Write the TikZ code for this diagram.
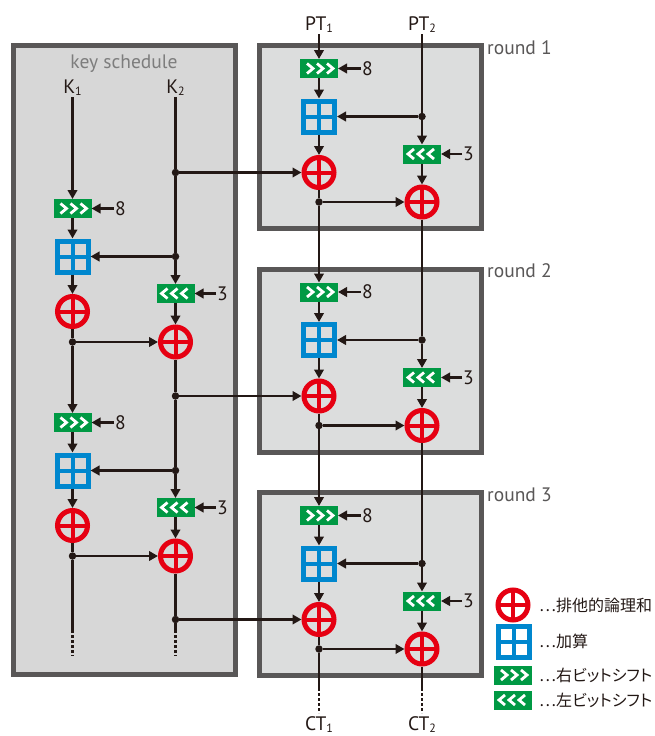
\documentclass[tikz,border=0pt]{standalone}
\usepackage{fontspec}
\setmainfont{PT Sans}
\newfontfamily\jpfont[RawFeature=+palt]{Noto Sans CJK JP}
\usetikzlibrary{arrows.meta}
\definecolor{ink}{HTML}{231815}
\definecolor{xred}{HTML}{E60012}
\definecolor{ablue}{HTML}{0087CE}
\definecolor{sgreen}{HTML}{009944}
\definecolor{frame}{HTML}{595757}
\definecolor{keyfill}{HTML}{D7D7D7}
\definecolor{rndfill}{HTML}{DCDDDD}
\definecolor{labgray}{HTML}{7D7D7D}
\newcommand{\mysub}[1]{\raisebox{-2.5pt}{\fontsize{12}{12}\selectfont #1}}
\begin{document}
\begin{tikzpicture}[x=1pt,y=-1pt,
  every node/.style={font=\fontsize{19.5}{22}\selectfont, text=ink},
  lab/.style={inner sep=1.5pt},
  arr/.style={draw=ink, line width=2.3pt, -{Triangle[length=9pt,width=9.5pt]}},
  ln/.style={draw=ink, line width=2.3pt},
  dotln/.style={draw=ink, line width=2.3pt, dash pattern=on 2.5pt off 2.5pt},
  dot/.style={circle, fill=ink, inner sep=0pt, minimum size=7.5pt},
  frm/.style={draw=frame, line width=5pt},
  shiftR/.style={rectangle, fill=sgreen, minimum width=38pt, minimum height=19pt, inner sep=0pt, outer sep=0pt,
    path picture={\foreach \c in {-9,1,11} \draw[white, line width=2.8pt]
      ([shift={(\c-3,-5)}]path picture bounding box.center) --
      ([shift={(\c+3,0)}]path picture bounding box.center) --
      ([shift={(\c-3,5)}]path picture bounding box.center);}},
  shiftL/.style={rectangle, fill=sgreen, minimum width=38pt, minimum height=19pt, inner sep=0pt, outer sep=0pt,
    path picture={\foreach \c in {-11,-1,9} \draw[white, line width=2.8pt]
      ([shift={(\c+3,-5)}]path picture bounding box.center) --
      ([shift={(\c-3,0)}]path picture bounding box.center) --
      ([shift={(\c+3,5)}]path picture bounding box.center);}},
  xor/.style={circle, draw=xred, line width=5pt, minimum size=30pt, inner sep=0pt,
    path picture={
      \draw[xred, line width=4pt] ([xshift=-16pt]path picture bounding box.center) -- ([xshift=16pt]path picture bounding box.center);
      \draw[xred, line width=4pt] ([yshift=-16pt]path picture bounding box.center) -- ([yshift=16pt]path picture bounding box.center);}},
  add/.style={rectangle, fill=ablue, minimum size=36pt, inner sep=0pt, outer sep=0pt,
    path picture={\foreach \a in {-13,2} \foreach \b in {-13,2}
      \fill[#1] ([shift={(\a,\b)}]path picture bounding box.center) rectangle ++(11,11);}}
]
\useasboundingbox (0,0) rectangle (654,736);
\fill[white] (0,0) rectangle (654,736);

% ---------- key schedule ----------
\draw[frm, fill=keyfill] (13.5,45.5) rectangle (235.5,674.5);
\node[anchor=base, text=labgray] (ks) at (124,68) {key schedule};
\node[anchor=base, lab] (k1) at (72.5,93) {K\mysub{1}};
\node[anchor=base, lab] (k2) at (175.5,93) {K\mysub{2}};

\foreach \g/\ys in {a/208.5,b/422.5}{
  \node[shiftR] (ksR\g) at (72.5,\ys) {};
  \node[anchor=west, inner sep=1pt] (ke\g) at (114,\ys) {8};
  \node[add=keyfill] (kad\g) at (72.5,\ys+48) {};
  \node[dot] (kdR\g) at (175.5,\ys+48) {};
  \node[shiftL] (ksL\g) at (175.5,\ys+85) {};
  \node[anchor=west, inner sep=1pt] (kt\g) at (216,\ys+85) {3};
  \node[xor] (kx\g) at (72.5,\ys+103) {};
  \node[dot] (kdL\g) at (72.5,\ys+133.5) {};
  \node[xor] (ky\g) at (175.5,\ys+133.5) {};
  \draw[arr] (ke\g) -- (ksR\g);
  \draw[arr] (ksR\g) -- (kad\g);
  \draw[arr] (kdR\g) -- (kad\g);
  \draw[arr] (kdR\g) -- (ksL\g);
  \draw[arr] (kt\g) -- (ksL\g);
  \draw[arr] (kad\g) -- (kx\g);
  \draw[ln] (kx\g) -- (kdL\g);
  \draw[arr] (kdL\g) -- (ky\g);
  \draw[arr] (ksL\g) -- (ky\g);
}

% ---------- rounds ----------
\foreach \k/\yb in {1/45.5,2/269,3/492.5}{
  \draw[frm, fill=rndfill] (259.5,\yb) rectangle +(222,183);
  \node[anchor=base west, text=frame, inner sep=0pt] (rl\k) at (487,\yb+8.5) {round \k};
}
\foreach \k/\yb in {1/45.5,2/269,3/492.5}{
  \node[shiftR] (sR\k) at (319,\yb+23) {};
  \node[anchor=west, inner sep=1pt] (e\k) at (361,\yb+23) {8};
  \node[add=rndfill] (ad\k) at (319,\yb+71) {};
  \node[dot] (dR\k) at (422,\yb+71) {};
  \node[shiftL] (sL\k) at (422,\yb+108.5) {};
  \node[anchor=west, inner sep=1pt] (t\k) at (462,\yb+108.5) {3};
  \node[xor] (x\k) at (319,\yb+127) {};
  \node[dot] (dL\k) at (319,\yb+156.5) {};
  \node[xor] (y\k) at (422,\yb+156.5) {};
  \draw[arr] (e\k) -- (sR\k);
  \draw[arr] (sR\k) -- (ad\k);
  \draw[arr] (dR\k) -- (ad\k);
  \draw[arr] (dR\k) -- (sL\k);
  \draw[arr] (t\k) -- (sL\k);
  \draw[arr] (ad\k) -- (x\k);
  \draw[ln] (x\k) -- (dL\k);
  \draw[arr] (dL\k) -- (y\k);
  \draw[arr] (sL\k) -- (y\k);
}

% key-to-round branch points
\node[dot] (kd1) at (175.5,172.5) {};
\node[dot] (kd2) at (175.5,396) {};
\node[dot] (kd3) at (175.5,619.5) {};

\draw[arr] (k1) -- (ksRa);
\draw[ln] (k2) -- (kd1);
\draw[ln] (kd1) -- (kdRa);
\draw[arr] (kd1) -- (x1);
\draw[ln] (kya) -- (kd2);
\draw[arr] (kd2) -- (x2);
\draw[ln] (kd2) -- (kdRb);
\draw[arr] (kdLa) -- (ksRb);
\draw[ln] (kyb) -- (kd3);
\draw[arr] (kd3) -- (x3);
\coordinate (kLa) at (72.5,630);
\coordinate (kLb) at (72.5,656);
\coordinate (kRa) at (175.5,630);
\coordinate (kRb) at (175.5,656);
\draw[ln] (kdLb) -- (kLa);
\draw[dotln] (kLa) -- (kLb);
\draw[ln] (kd3) -- (kRa);
\draw[dotln] (kRa) -- (kRb);

% plaintext / ciphertext
\node[anchor=base, lab] (pt1) at (319,30) {PT\mysub{1}};
\node[anchor=base, lab] (pt2) at (422,30) {PT\mysub{2}};
\draw[arr] (pt1) -- (sR1);
\draw[ln] (pt2) -- (dR1);
\draw[arr] (dL1) -- (sR2);
\draw[ln] (y1) -- (dR2);
\draw[arr] (dL2) -- (sR3);
\draw[ln] (y2) -- (dR3);
\coordinate (cLa) at (319,688);
\coordinate (cLb) at (319,713);
\coordinate (cRa) at (422,688);
\coordinate (cRb) at (422,713);
\draw[ln] (dL3) -- (cLa);
\draw[dotln] (cLa) -- (cLb);
\draw[ln] (y3) -- (cRa);
\draw[dotln] (cRa) -- (cRb);
\node[anchor=base, lab] (ct1) at (319,730) {CT\mysub{1}};
\node[anchor=base, lab] (ct2) at (422,730) {CT\mysub{2}};

% ---------- legend ----------
\node[xor] (lx) at (513,605) {};
\node[add=white] (la) at (513.5,641.5) {};
\node[shiftR] (lr) at (513,675) {};
\node[shiftL] (ll) at (513,700) {};
\begin{scope}[every node/.style={font=\jpfont\fontsize{16}{18}\selectfont, text=ink, anchor=west, inner sep=0pt}]
\node (tx) at (539,605) {…排他的論理和};
\node (ta) at (539,641.5) {…加算};
\node (tr) at (539,675) {…右ビットシフト};
\node (tl) at (539,700) {…左ビットシフト};
\end{scope}
\end{tikzpicture}
\end{document}
